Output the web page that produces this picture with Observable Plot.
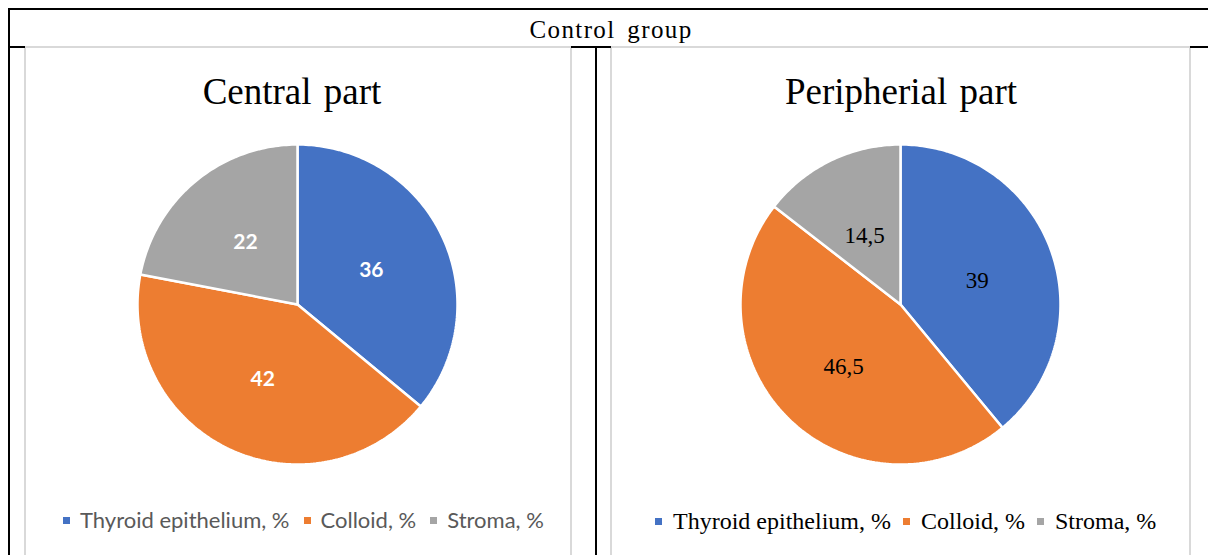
<!DOCTYPE html>
<html>
<head>
<meta charset="utf-8">
<script src="https://cdn.jsdelivr.net/npm/d3@7"></script>
<script src="https://cdn.jsdelivr.net/npm/@observablehq/plot@0.6"></script>
<style>
  html, body { margin: 0; padding: 0; background: #fff; }
  body { width: 1208px; height: 555px; position: relative; overflow: hidden; }
  .blk { position: absolute; background: #000; }
  .panel { position: absolute; border: 2px solid #d9d9d9; box-sizing: border-box; background: #fff; }
  .title { position: absolute; font-family: "Liberation Serif", serif; font-size: 37px; color: #000; white-space: nowrap; transform: translateX(-50%); line-height: 1; word-spacing: 3px; }
  .legend { position: absolute; display: flex; align-items: center; white-space: nowrap; line-height: 1; }
  .legend .sw { width: 7px; height: 7px; display: inline-block; }
</style>
</head>
<body>
<script>
// ---- data ----
const groupTitle = "Control group";
const panelTitles = ["Central part", "Peripherial part"];
const categories = ["Thyroid epithelium, %", "Colloid, %", "Stroma, %"];
const centralValues = [36, 42, 22];
const peripheralValues = [39, 46.5, 14.5];
const centralLabels = ["36", "42", "22"];
const peripheralLabels = ["39", "46,5", "14,5"];
const colors = ["#4472C4", "#ED7D31", "#A5A5A5"];

// ---- layout frame ----
function box(cls, l, t, w, h) {
  const d = document.createElement("div");
  d.className = cls;
  Object.assign(d.style, {left: l + "px", top: t + "px", width: w + "px", height: h + "px"});
  document.body.appendChild(d);
  return d;
}
box("panel", 24, 46, 548, 540);
box("panel", 610, 46, 581, 540);
box("blk", 9, 8, 1199, 2);
box("blk", 8, 8, 2, 560);
box("blk", 595, 46, 2, 520);
box("blk", 8, 46, 17, 2);
box("blk", 571, 46, 40, 2);
box("blk", 1190, 46, 18, 2);

const gt = document.createElement("div");
gt.className = "title";
gt.textContent = groupTitle;
Object.assign(gt.style, {left: "611px", top: "17px", fontSize: "25px", letterSpacing: "1.4px", wordSpacing: "4px"});
document.body.appendChild(gt);

// ---- pies ----
const R = 160, HALF = 172, D = HALF / R;
function pieRows(values) {
  const total = d3.sum(values);
  const rows = [];
  let acc = 0;
  values.forEach((v, i) => {
    const a0 = acc / total * 2 * Math.PI;
    acc += v;
    const a1 = acc / total * 2 * Math.PI;
    const n = Math.max(2, Math.ceil((a1 - a0) / (Math.PI / 180)));
    rows.push({cat: categories[i], x: 0, y: 0});
    for (let k = 0; k <= n; k++) {
      const a = a0 + (a1 - a0) * k / n;
      rows.push({cat: categories[i], x: Math.sin(a), y: Math.cos(a)});
    }
    rows.push({cat: categories[i], x: 0, y: 0});
  });
  return rows;
}
function labelRows(values, labels, r) {
  const total = d3.sum(values);
  let acc = 0;
  return values.map((v, i) => {
    const am = (acc + v / 2) / total * 2 * Math.PI;
    acc += v;
    return {text: labels[i], x: r * Math.sin(am), y: r * Math.cos(am)};
  });
}

function pie(values, labels, labelStyle) {
  return Plot.plot({
    width: HALF * 2, height: HALF * 2, margin: 0,
    x: {domain: [-D, D], axis: null},
    y: {domain: [-D, D], axis: null},
    color: {domain: categories, range: colors},
    style: {background: "transparent", overflow: "visible"},
    marks: [
      Plot.line(pieRows(values), {x: "x", y: "y", z: "cat", fill: "cat", stroke: "white", strokeWidth: 2.5, strokeLinejoin: "miter", curve: "linear"}),
      Plot.text(labelRows(values, labels, 0.51), {x: "x", y: "y", text: "text", ...labelStyle})
    ]
  });
}

const panels = [
  {cx: 297, cy: 304, values: centralValues, labels: centralLabels, title: panelTitles[0], tx: 292,
   labelStyle: {fill: "white", fontSize: 21, fontWeight: "bold", fontFamily: "Lato, sans-serif", dy: 1},
   legend: {left: 63, top: 509, font: "Lato, sans-serif", size: "22px", color: "#595959", gap: 10, itemGap: 14}},
  {cx: 900, cy: 304, values: peripheralValues, labels: peripheralLabels, title: panelTitles[1], tx: 901,
   labelStyle: {fill: "black", fontSize: 23, fontFamily: "Liberation Serif, serif", dy: 4},
   legend: {left: 655, top: 509, font: "Liberation Serif, serif", size: "24px", color: "#000", gap: 11, itemGap: 12}}
];

panels.forEach(p => {
  const t = document.createElement("div");
  t.className = "title";
  t.textContent = p.title;
  Object.assign(t.style, {left: p.tx + "px", top: "73px"});
  document.body.appendChild(t);

  const svg = pie(p.values, p.labels, p.labelStyle);
  svg.style.position = "absolute";
  svg.style.left = (p.cx - HALF) + "px";
  svg.style.top = (p.cy - HALF) + "px";
  document.body.appendChild(svg);

  const lg = document.createElement("div");
  lg.className = "legend";
  Object.assign(lg.style, {left: p.legend.left + "px", top: p.legend.top + "px", fontFamily: p.legend.font, fontSize: p.legend.size, color: p.legend.color});
  categories.forEach((c, i) => {
    const sw = document.createElement("span");
    sw.className = "sw";
    sw.style.background = colors[i];
    sw.style.marginRight = p.legend.gap + "px";
    if (i > 0) sw.style.marginLeft = p.legend.itemGap + "px";
    const tx = document.createElement("span");
    tx.textContent = c;
    lg.appendChild(sw);
    lg.appendChild(tx);
  });
  document.body.appendChild(lg);
});
</script>
</body>
</html>
